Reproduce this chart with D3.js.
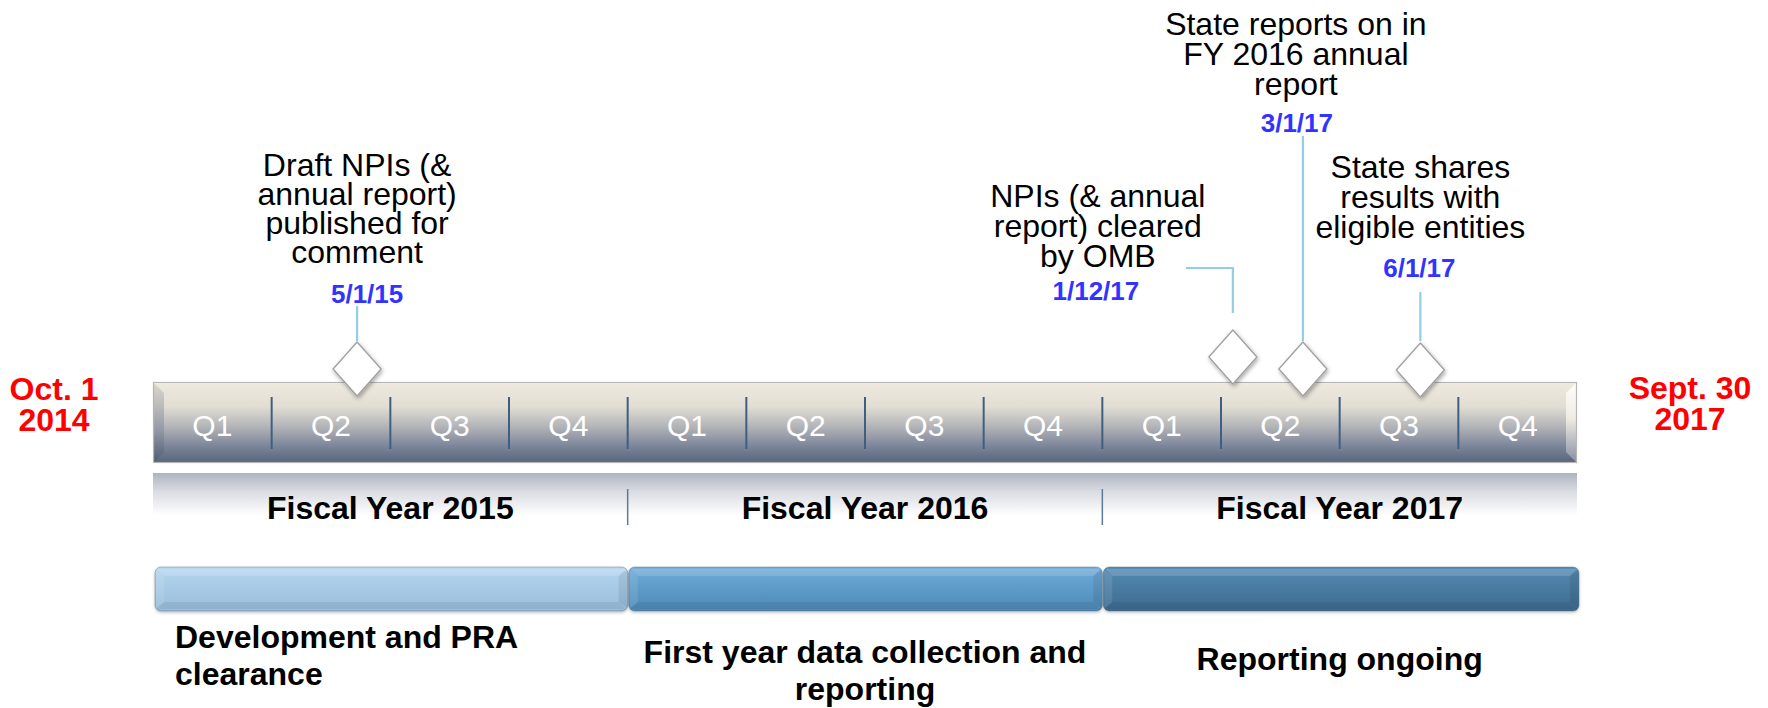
<!DOCTYPE html>
<html>
<head>
<meta charset="utf-8">
<script src="https://cdn.jsdelivr.net/npm/d3@7"></script>
<style>
  html, body { margin: 0; padding: 0; background: #ffffff; }
  svg { display: block; font-family: "Liberation Sans", Arial, sans-serif; }
</style>
</head>
<body>
<svg id="chart" width="1768" height="708"></svg>
<script>
// ---------------- DATA ----------------
const quarterLabels = ["Q1", "Q2", "Q3", "Q4"];
const fiscalYears = ["Fiscal Year 2015", "Fiscal Year 2016", "Fiscal Year 2017"];
const startLabel = ["Oct. 1", "2014"];
const endLabel = ["Sept. 30", "2017"];

const milestoneDates = ["5/1/15", "1/12/17", "3/1/17", "6/1/17"];
const milestonePos = [1.72, 9.10, 9.69, 10.68];
const milestoneText = [
  ["Draft NPIs (&", "annual report)", "published for", "comment"],
  ["NPIs (& annual", "report) cleared", "by OMB"],
  ["State reports on in", "FY 2016 annual", "report"],
  ["State shares", "results with", "eligible entities"]
];

const phaseLabels = [
  ["Development and PRA", "clearance"],
  ["First year data collection and", "reporting"],
  ["Reporting ongoing"]
];
const phaseStart = [0, 4, 8];
const phaseEnd = [4, 8, 12];

// ---------------- LAYOUT ----------------
const svg = d3.select("#chart");
const x = d3.scaleLinear().domain([0, 12]).range([153, 1577]);
const barTop = 382, barBot = 463;
const divTop = 397, divBot = 449;
const bandTop = 473, bandBot = 526;
const phaseTop = 567, phaseBot = 611;

const defs = svg.append("defs");
function lin(id, stops, x1 = 0, y1 = 0, x2 = 0, y2 = 1) {
  const g = defs.append("linearGradient").attr("id", id)
    .attr("x1", x1).attr("y1", y1).attr("x2", x2).attr("y2", y2);
  stops.forEach(s => g.append("stop").attr("offset", s[0]).attr("stop-color", s[1]).attr("stop-opacity", s[2] === undefined ? 1 : s[2]));
}
lin("barGrad", [[0, "#eeeae0"], [0.3, "#e2ded4"], [0.55, "#b3b4b8"], [0.8, "#7a8498"], [1, "#56647b"]]);
lin("bandGrad", [[0, "#aeb4bf"], [0.35, "#d9dce2"], [0.8, "#ffffff"], [1, "#ffffff"]]);
lin("leftBevel", [[0, "#d8d4cb"], [0.6, "#8e95a2"], [1, "#4c5a70"]]);
lin("rightBevel", [[0, "#ffffff"], [0.45, "#f2efe6"], [1, "#8a94a6"]]);
lin("ph0", [[0, "#bcdaf0"], [0.2, "#b0d1ec"], [1, "#98bcda"]]);
lin("ph1", [[0, "#77b1dc"], [0.2, "#68a5d2"], [1, "#4d89b6"]]);
lin("ph2", [[0, "#5a8fb6"], [0.2, "#5184ab"], [1, "#3c6a8e"]]);
const sh = defs.append("filter").attr("id", "shadow").attr("x", "-50%").attr("y", "-50%").attr("width", "200%").attr("height", "200%");
sh.append("feDropShadow").attr("dx", 1).attr("dy", 2).attr("stdDeviation", 2.2).attr("flood-color", "#000").attr("flood-opacity", 0.35);
const sh2 = defs.append("filter").attr("id", "shadow2").attr("x", "-10%").attr("y", "-50%").attr("width", "120%").attr("height", "200%");
sh2.append("feDropShadow").attr("dx", 0).attr("dy", 1.5).attr("stdDeviation", 1.5).attr("flood-color", "#000").attr("flood-opacity", 0.25);

// ---------- Fiscal year band (reflection) ----------
svg.append("rect")
  .attr("x", x(0)).attr("y", bandTop)
  .attr("width", x(12) - x(0)).attr("height", bandBot - bandTop)
  .attr("fill", "url(#bandGrad)");

// ---------- Main quarter bar ----------
const bevel = 11;
svg.append("rect")
  .attr("x", x(0)).attr("y", barTop)
  .attr("width", x(12) - x(0)).attr("height", barBot - barTop)
  .attr("fill", "url(#barGrad)");
svg.append("polygon")
  .attr("points", [[x(0), barTop], [x(0) + bevel, barTop + bevel], [x(0) + bevel, barBot - bevel], [x(0), barBot]].join(" "))
  .attr("fill", "url(#leftBevel)").attr("opacity", 0.85);
svg.append("polygon")
  .attr("points", [[x(12), barTop], [x(12) - bevel, barTop + bevel], [x(12) - bevel, barBot - bevel], [x(12), barBot]].join(" "))
  .attr("fill", "url(#rightBevel)").attr("opacity", 0.9);
svg.append("rect").attr("x", x(0)).attr("y", barTop).attr("width", x(12) - x(0)).attr("height", 2)
  .attr("fill", "#f4f1ea");
svg.append("rect")
  .attr("x", x(0) + 0.5).attr("y", barTop + 0.5)
  .attr("width", x(12) - x(0) - 1).attr("height", barBot - barTop - 1)
  .attr("fill", "none").attr("stroke", "#b5b5b2").attr("stroke-width", 1.2);

const qIdx = d3.range(12);
svg.append("g").selectAll("line").data(qIdx.slice(1)).join("line")
  .attr("x1", d => x(d)).attr("x2", d => x(d))
  .attr("y1", divTop).attr("y2", divBot)
  .attr("stroke", "#3e5f80").attr("stroke-width", 2);

svg.append("g").selectAll("text").data(qIdx).join("text")
  .attr("x", d => x(d + 0.5)).attr("y", 436)
  .attr("text-anchor", "middle")
  .attr("font-size", 30).attr("fill", "#ffffff")
  .text(d => quarterLabels[d % 4]);

// ---------- Fiscal year labels & dividers ----------
svg.append("g").selectAll("line").data([4, 8]).join("line")
  .attr("x1", d => x(d)).attr("x2", d => x(d))
  .attr("y1", 489).attr("y2", 525)
  .attr("stroke", "#5b7b9b").attr("stroke-width", 1.5);
svg.append("g").selectAll("text").data(fiscalYears).join("text")
  .attr("x", (d, i) => x(i * 4 + 2)).attr("y", 519)
  .attr("text-anchor", "middle")
  .attr("font-size", 32).attr("font-weight", "bold").attr("fill", "#000")
  .text(d => d);

// ---------- Start / end labels ----------
function stack(lines, cx, y0, lh, attrs) {
  const t = svg.append("text").attr("text-anchor", "middle");
  Object.entries(attrs).forEach(([k, v]) => t.attr(k, v));
  lines.forEach((l, i) => t.append("tspan").attr("x", cx).attr("y", y0 + i * lh).text(l));
  return t;
}
stack(startLabel, 54, 400, 31, { "font-size": 32, "font-weight": "bold", "fill": "#ff0000" });
stack(endLabel, 1690, 399, 31, { "font-size": 32, "font-weight": "bold", "fill": "#ff0000" });

// ---------- Phase bars ----------
const phg = svg.append("g");
phaseStart.forEach((s, i) => {
  const x0 = x(s) + (i === 0 ? 2 : 1), x1 = x(phaseEnd[i]) + (i === 2 ? 2 : 0);
  const g = phg.append("g");
  g.append("rect").attr("x", x0).attr("y", phaseTop).attr("width", x1 - x0).attr("height", phaseBot - phaseTop)
    .attr("rx", 6).attr("fill", `url(#ph${i})`).attr("stroke", "rgba(60,80,100,0.35)").attr("stroke-width", 1)
    .attr("filter", "url(#shadow2)");
  const b = 9;
  g.append("polygon").attr("points", [[x0 + 2, phaseTop + 2], [x0 + b, phaseTop + b], [x1 - b, phaseTop + b], [x1 - 2, phaseTop + 2]].join(" "))
    .attr("fill", "#ffffff").attr("opacity", 0.14);
  g.append("polygon").attr("points", [[x0 + 2, phaseBot - 2], [x0 + b, phaseBot - b], [x1 - b, phaseBot - b], [x1 - 2, phaseBot - 2]].join(" "))
    .attr("fill", "#000000").attr("opacity", 0.06);
  g.append("polygon").attr("points", [[x0 + 1, phaseTop + 3], [x0 + b, phaseTop + b], [x0 + b, phaseBot - b], [x0 + 1, phaseBot - 3]].join(" "))
    .attr("fill", "#ffffff").attr("opacity", 0.10);
  g.append("polygon").attr("points", [[x1 - 1, phaseTop + 3], [x1 - b, phaseTop + b], [x1 - b, phaseBot - b], [x1 - 1, phaseBot - 3]].join(" "))
    .attr("fill", "#000000").attr("opacity", 0.08);
});

const phaseLayout = [
  { anchor: "start", dx: 175 - x(0), y: 648 },
  { anchor: "middle", dx: null, y: 663 },
  { anchor: "middle", dx: null, y: 670 }
];
phaseLabels.forEach((lines, i) => {
  const L = phaseLayout[i];
  const px = L.dx === null ? (x(phaseStart[i]) + x(phaseEnd[i])) / 2 : x(phaseStart[i]) + L.dx;
  const t = svg.append("text").attr("text-anchor", L.anchor)
    .attr("font-size", 32).attr("font-weight", "bold").attr("fill", "#000");
  lines.forEach((l, k) => t.append("tspan").attr("x", px).attr("y", L.y + k * 37).text(l));
});

// ---------- Milestones ----------
const msLayout = [
  { cy: 369, textDx: 0, textY: 176, lh: 29, dateDx: 10, dateY: 303, line: [[0, 306], [0, 341]] },
  { cy: 357, textDx: -135, textY: 207, lh: 30, dateDx: -137, dateY: 300, line: [[-47, 268], [0, 268], [0, 313]] },
  { cy: 369, textDx: -7, textY: 35, lh: 30, dateDx: -6, dateY: 132, line: [[0, 136], [0, 341]] },
  { cy: 370, textDx: 0, textY: 178, lh: 30, dateDx: -1, dateY: 277, line: [[0, 292], [0, 341]] }
];
const lineGen = d3.line();
milestonePos.forEach((p, i) => {
  const L = msLayout[i];
  const cx = x(p);
  svg.append("path")
    .attr("d", lineGen(L.line.map(q => [cx + q[0], q[1]])))
    .attr("fill", "none").attr("stroke", "#92cfe6").attr("stroke-width", 2.2);
  const hw = 24, hh = 27;
  svg.append("polygon")
    .attr("points", [[cx, L.cy - hh], [cx + hw, L.cy], [cx, L.cy + hh], [cx - hw, L.cy]].join(" "))
    .attr("fill", "#ffffff").attr("stroke", "#a0a0a0").attr("stroke-width", 1.3)
    .attr("stroke-linejoin", "round")
    .attr("filter", "url(#shadow)");
  stack(milestoneText[i], cx + L.textDx, L.textY, L.lh, { "font-size": 32, "fill": "#000" });
  svg.append("text")
    .attr("x", cx + L.dateDx).attr("y", L.dateY)
    .attr("text-anchor", "middle")
    .attr("font-size", 26).attr("font-weight", "bold").attr("fill", "#3333ff")
    .text(milestoneDates[i]);
});
</script>
</body>
</html>
